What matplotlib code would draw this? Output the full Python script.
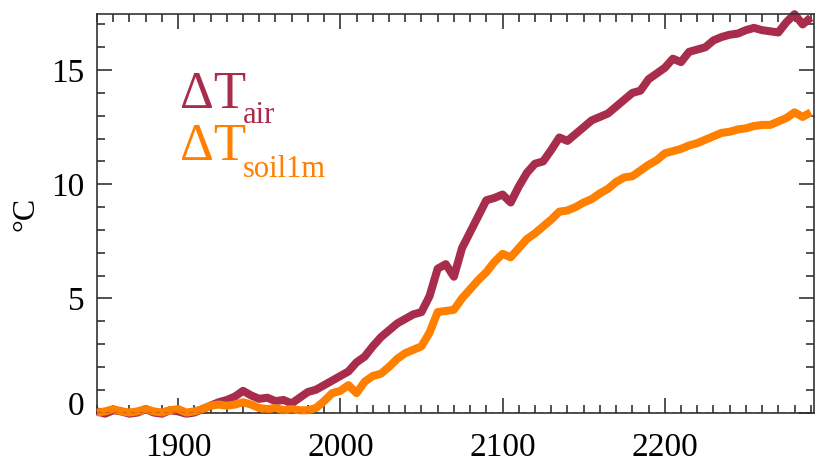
import numpy as np
import matplotlib
matplotlib.use('Agg')
import matplotlib.pyplot as plt
from matplotlib.ticker import MultipleLocator
from matplotlib.transforms import ScaledTranslation

# years every 5 from 1850 to 2290
years = np.arange(1850, 2291, 5)

t_air = [0.05, -0.05, 0.1, 0.05, -0.05, 0.0, 0.15, 0.0, -0.05, 0.1,
         0.05, -0.05, 0.0, 0.15, 0.3, 0.45, 0.55, 0.7, 0.95, 0.75,
         0.6, 0.65, 0.5, 0.55, 0.4, 0.65, 0.9, 1.0, 1.2, 1.4,
         1.6, 1.8, 2.2, 2.45, 2.9, 3.3, 3.6, 3.9, 4.1, 4.3,
         4.4, 5.1, 6.3, 6.5, 5.95, 7.2, 7.9, 8.6, 9.3, 9.4,
         9.55, 9.2, 9.9, 10.5, 10.9, 11.0, 11.5, 12.05, 11.9, 12.2,
         12.5, 12.8, 12.95, 13.1, 13.4, 13.7, 14.0, 14.1, 14.6, 14.85,
         15.1, 15.5, 15.35, 15.8, 15.9, 16.0, 16.3, 16.45, 16.55, 16.6,
         16.75, 16.85, 16.75, 16.7, 16.65, 17.1, 17.45, 17.0, 17.3]

t_soil = [0.0, 0.05, 0.15, 0.05, 0.0, 0.05, 0.15, 0.05, 0.0, 0.1,
          0.15, 0.0, 0.05, 0.15, 0.3, 0.35, 0.3, 0.35, 0.45, 0.35,
          0.2, 0.15, 0.2, 0.1, 0.15, 0.1, 0.1, 0.2, 0.5, 0.85,
          0.95, 1.2, 0.85, 1.35, 1.6, 1.7, 2.0, 2.35, 2.6, 2.75,
          2.9, 3.5, 4.4, 4.45, 4.5, 5.0, 5.4, 5.8, 6.15, 6.6,
          6.95, 6.8, 7.2, 7.6, 7.85, 8.15, 8.45, 8.8, 8.85, 9.0,
          9.2, 9.35, 9.6, 9.8, 10.1, 10.3, 10.35, 10.6, 10.85, 11.05,
          11.35, 11.45, 11.55, 11.7, 11.8, 11.95, 12.1, 12.25, 12.3, 12.4,
          12.45, 12.55, 12.6, 12.6, 12.75, 12.9, 13.15, 12.95, 13.15]

air_color = '#A82C4B'
soil_color = '#FF7F00'

plt.rcParams['font.family'] = 'Liberation Serif'

W, H = 815, 466
fig = plt.figure(figsize=(W / 100, H / 100), dpi=100)
ax = fig.add_axes([97 / W, (H - 413) / H, (814 - 97) / W, (413 - 13.5) / H])

ax.plot(years, t_air, color=air_color, lw=5.8, solid_capstyle='butt', clip_on=False, zorder=2)
ax.plot(years, t_soil, color=soil_color, lw=5.8, solid_capstyle='butt', clip_on=False, zorder=3)
ax.axhline(0, color='black', lw=1.0, ls=(0, (3, 3)), zorder=4)

ax.set_xlim(1850, 2292)
ax.set_ylim(-0.02, 17.48)

ax.xaxis.set_major_locator(MultipleLocator(100))
ax.xaxis.set_minor_locator(MultipleLocator(10))
ax.yaxis.set_major_locator(MultipleLocator(5))
ax.yaxis.set_minor_locator(MultipleLocator(1))
ax.tick_params(which='both', direction='in', top=True, right=True, color='#333333', width=1.2)
ax.tick_params(which='major', length=11)
ax.tick_params(which='minor', length=6)
ax.tick_params(axis='x', labelsize=24, pad=14)
ax.tick_params(axis='y', labelsize=24, pad=9)
for sp in ax.spines.values():
    sp.set_color('#333333')
    sp.set_linewidth(1.2)

# the "0" label sits a little above its tick
fig.canvas.draw()
for tick in ax.yaxis.get_major_ticks():
    if abs(tick.get_loc()) < 1e-9:
        tick.label1.set_transform(tick.label1.get_transform()
                                  + ScaledTranslation(0, 9 / 100, fig.dpi_scale_trans))

fig.text(26 / W, 1 - 214 / H, '°C', rotation=90, fontsize=23, ha='center', va='center')

fig.text(180 / W, 1 - 108 / H, 'ΔT', color=air_color, fontsize=38, va='baseline')
fig.text(243 / W, 1 - 123 / H, 'air', color=air_color, fontsize=22, va='baseline')
fig.text(180 / W, 1 - 160 / H, 'ΔT', color=soil_color, fontsize=38, va='baseline')
fig.text(243 / W, 1 - 177 / H, 'soil1m', color=soil_color, fontsize=22, va='baseline')

fig.savefig('out.png', dpi=100)
